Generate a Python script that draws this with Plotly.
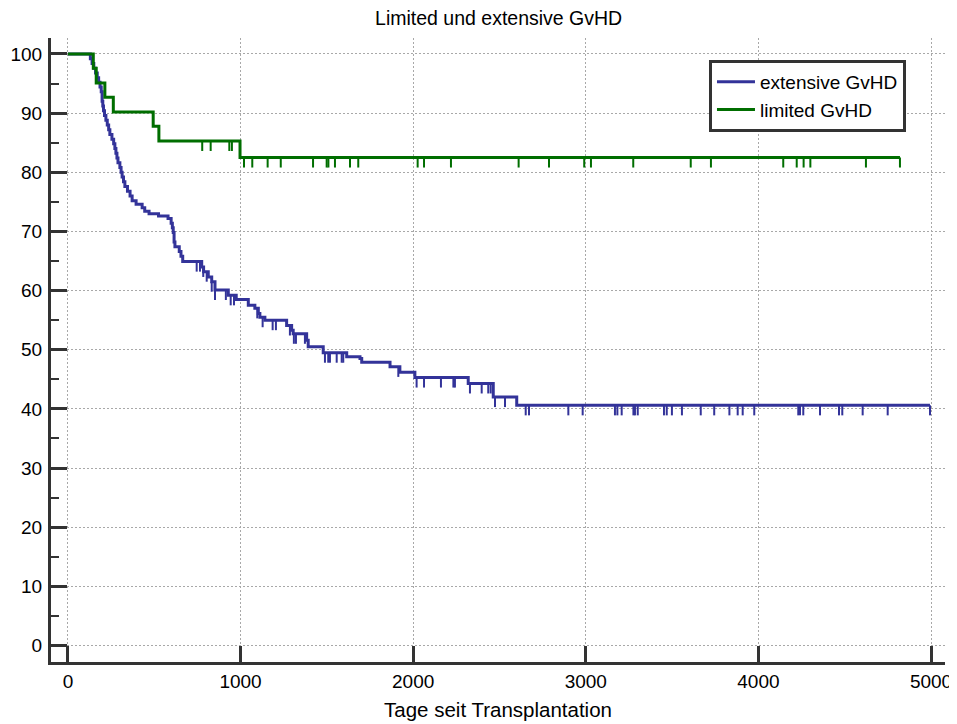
import plotly.graph_objects as go

# ---- data ----
BLUE_NAME = "extensive GvHD"
GREEN_NAME = "limited GvHD"

blue_days = [0, 130, 140, 150, 160, 170, 178, 186, 193, 198, 202, 206, 212, 220, 228, 236, 243,
             255, 265, 272, 278, 284, 290, 301, 308, 314, 322, 330, 345, 360, 372, 395, 430,
             445, 470, 525, 580, 598, 605, 610, 615, 620, 645, 655, 665, 775, 786, 813, 833,
             852, 929, 975, 1045, 1083, 1103, 1112, 1141, 1267, 1296, 1305, 1383, 1392, 1479,
             1615, 1692, 1702, 1866, 1923, 2010, 2319, 2464, 2600, 4994]
blue_surv = [100, 99.2, 98.4, 97.6, 96.8, 96.0, 95.2, 94.4, 93.6, 92.0, 91.2, 90.4, 89.6, 88.8,
             88.0, 87.2, 86.4, 85.6, 84.8, 84.0, 83.2, 82.4, 81.6, 80.8, 80.0, 79.2, 78.4, 77.6,
             76.8, 76.0, 75.2, 74.6, 74.0, 73.4, 73.0, 72.6, 72.2, 71.4, 70.6, 69.8, 68.2, 67.4,
             66.6, 65.8, 64.9, 64.0, 63.2, 62.3, 61.5, 60.1, 59.2, 58.5, 57.5, 57.0, 56.1, 55.5,
             55.0, 54.1, 53.3, 52.7, 51.6, 50.5, 49.5, 48.8, 48.5, 47.9, 47.1, 46.2, 45.3, 44.3,
             42.0, 40.6, 40.6]
blue_censored = [746, 765, 784, 804, 833, 852, 915, 943, 962, 1097, 1128, 1186, 1205, 1286, 1309,
                 1321, 1373, 1489, 1508, 1518, 1557, 1586, 1595, 1914, 2020, 2063, 2161, 2233,
                 2242, 2329, 2397, 2435, 2449, 2474, 2532, 2652, 2671, 2899, 2982, 3169, 3183,
                 3208, 3276, 3285, 3301, 3453, 3469, 3499, 3557, 3666, 3744, 3832, 3880, 3909,
                 3976, 4231, 4241, 4260, 4357, 4467, 4486, 4604, 4749, 4994]

green_days = [0, 147, 164, 214, 263, 494, 527, 997, 4820]
green_surv = [100, 97.6, 95.1, 92.7, 90.2, 87.8, 85.3, 82.5, 82.5]
green_censored = [778, 827, 935, 950, 1020, 1068, 1157, 1233, 1420, 1499, 1509, 1547, 1634, 1682,
                  2026, 2063, 2219, 2611, 2787, 2991, 3030, 3275, 3608, 3725, 4144, 4222, 4262,
                  4301, 4623, 4820]

x_ticks = [0, 1000, 2000, 3000, 4000, 5000]
y_ticks = [0, 10, 20, 30, 40, 50, 60, 70, 80, 90, 100]

TITLE = "Limited und extensive GvHD"
X_TITLE = "Tage seit Transplantation"

# ---- styles ----
BLUE = "rgb(51,51,153)"
GREEN = "rgb(0,110,0)"
AXIS = "#333333"
FONT = "Liberation Sans, Arial, sans-serif"
CENSOR_LEN = 1.7  # length of censor marks in y units


def step_value(days, surv, t):
    v = surv[0]
    for d, s in zip(days, surv):
        if d <= t:
            v = s
        else:
            break
    return v


fig = go.Figure()

for name, days, surv, cens, color in [
    (BLUE_NAME, blue_days, blue_surv, blue_censored, BLUE),
    (GREEN_NAME, green_days, green_surv, green_censored, GREEN),
]:
    fig.add_trace(go.Scatter(
        x=days, y=surv, mode="lines", name=name,
        line=dict(color=color, width=3, shape="hv"),
        hoverinfo="skip",
    ))
    cy = [step_value(days, surv, t) for t in cens]
    fig.add_trace(go.Scatter(
        x=cens, y=cy, mode="markers", showlegend=False,
        marker=dict(size=0.1, color=color, opacity=0),
        error_y=dict(type="data", symmetric=False,
                     array=[0] * len(cens), arrayminus=[CENSOR_LEN] * len(cens),
                     width=0, thickness=2, color=color),
        hoverinfo="skip",
    ))

fig.update_layout(
    width=949, height=716,
    margin=dict(l=43, r=12, t=30, b=62, autoexpand=False),
    paper_bgcolor="white", plot_bgcolor="white",
    font=dict(family=FONT, size=19, color="black"),
    title=dict(text=TITLE, x=0.517, xanchor="center", y=0.986, yanchor="middle",
               font=dict(size=19.5)),
    showlegend=True,
    legend=dict(x=0.736, y=0.965, xanchor="left", yanchor="top",
                bordercolor=AXIS, borderwidth=3, bgcolor="white",
                font=dict(size=19), tracegroupgap=0, itemwidth=38),
)

fig.update_xaxes(
    range=[-98, 5081], tickvals=x_ticks, ticktext=[str(v) for v in x_ticks],
    showline=True, linecolor=AXIS, linewidth=3,
    ticks="inside", ticklen=16, tickwidth=3, tickcolor=AXIS,
    showgrid=True, gridcolor="#a8a8a8", gridwidth=1, griddash="2px,2px",
    zeroline=False, automargin=False,
    title=dict(text=X_TITLE, standoff=12, font=dict(size=20.5)),
    tickfont=dict(size=19),
)
fig.update_yaxes(
    range=[-2.8, 102.7], tickvals=y_ticks, ticktext=[str(v) for v in y_ticks],
    showline=True, linecolor=AXIS, linewidth=3,
    ticks="inside", ticklen=16, tickwidth=3, tickcolor=AXIS,
    minor=dict(tickvals=[5, 15, 25, 35, 45, 55, 65, 75, 85, 95], ticks="inside",
               ticklen=8, tickwidth=2, tickcolor=AXIS, showgrid=False),
    showgrid=True, gridcolor="#a8a8a8", gridwidth=1, griddash="2px,2px",
    zeroline=False, automargin=False, ticklabelstandoff=2,
    tickfont=dict(size=19),
)

fig.write_html("out.html")
